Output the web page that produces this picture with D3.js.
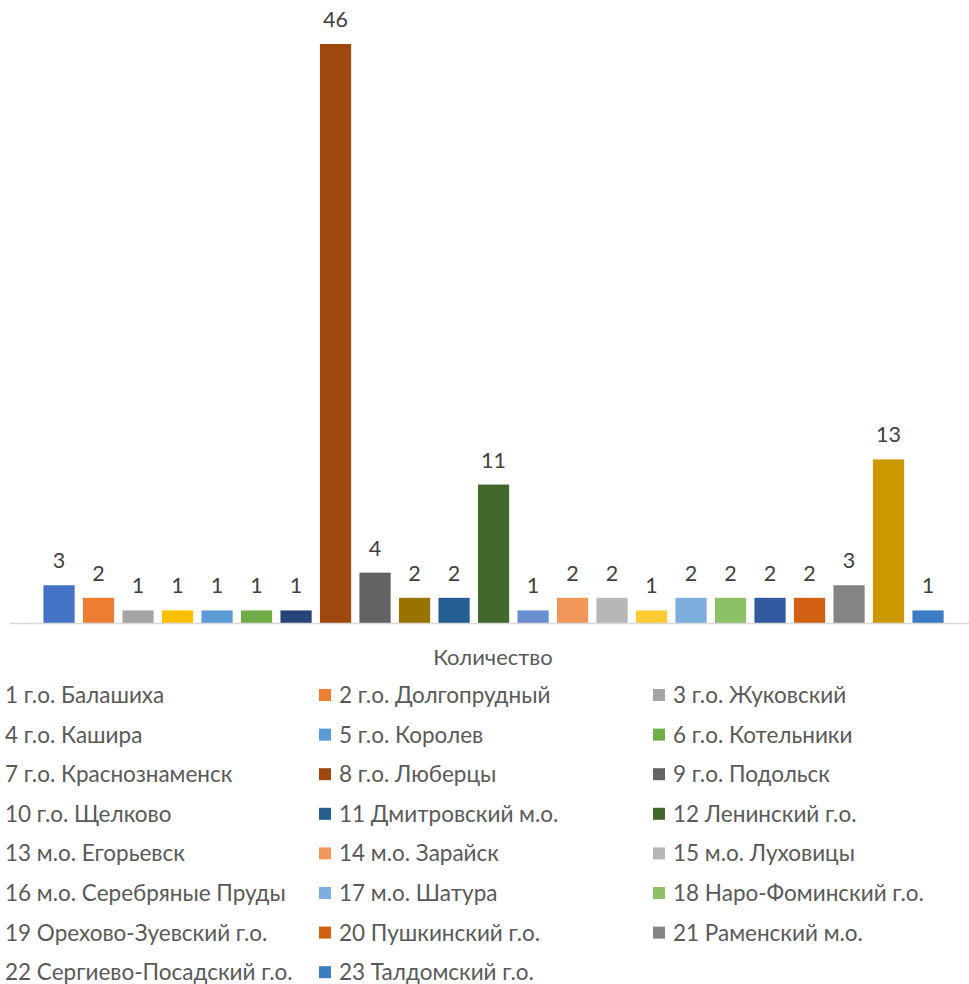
<!DOCTYPE html>
<html><head><meta charset="utf-8">
<script src="https://cdn.jsdelivr.net/npm/d3@7"></script>
<style>body{margin:0;background:#fff;} svg{display:block;}</style>
</head><body>
<script>
const categories = ["1 г.о. Балашиха","2 г.о. Долгопрудный","3 г.о. Жуковский","4 г.о. Кашира","5 г.о. Королев","6 г.о. Котельники","7 г.о. Краснознаменск","8 г.о. Люберцы","9 г.о. Подольск","10 г.о. Щелково","11 Дмитровский м.о.","12 Ленинский г.о.","13 м.о. Егорьевск","14 м.о. Зарайск","15 м.о. Луховицы","16 м.о. Серебряные Пруды","17 м.о. Шатура","18 Наро-Фоминский г.о.","19 Орехово-Зуевский г.о.","20 Пушкинский г.о.","21 Раменский м.о.","22 Сергиево-Посадский г.о.","23 Талдомский г.о."];
const values = [3,2,1,1,1,1,1,46,4,2,2,11,1,2,2,1,2,2,2,2,3,13,1];
const colors = ["#4472C4","#ED7D31","#A5A5A5","#FFC000","#5B9BD5","#70AD47","#264478","#9E480E","#636363","#997300","#255E91","#43682B","#698ED0","#F1975A","#B7B7B7","#FFCD33","#7CAFDD","#8CC168","#335AA1","#D26012","#848484","#CC9A00","#3A7DC2"];
const axisTitle = "Количество";

const W = 969, H = 984;
const svg = d3.select("body").append("svg").attr("width", W).attr("height", H);
const font = "Lato, 'Noto Sans', sans-serif";

const x = d3.scaleBand().domain(categories).range([39.3, 947.8]).paddingInner(0.21).paddingOuter(0.105);
const y = d3.scaleLinear().domain([0, 46]).range([623, 44]);

svg.selectAll("rect.bar").data(categories).join("rect")
  .attr("class","bar")
  .attr("x", d => x(d)).attr("width", x.bandwidth())
  .attr("y", (d,i) => y(values[i])).attr("height", (d,i) => y(0) - y(values[i]))
  .attr("fill", (d,i) => colors[i]);

svg.append("line").attr("x1", 10).attr("x2", 969).attr("y1", 623.5).attr("y2", 623.5)
  .attr("stroke", "#D9D9D9").attr("stroke-width", 1.5);

svg.selectAll("text.val").data(categories).join("text")
  .attr("class","val")
  .attr("x", d => x(d) + x.bandwidth()/2)
  .attr("y", (d,i) => y(values[i]) - 17)
  .attr("text-anchor","middle")
  .attr("font-family", font).attr("font-size", 21.5).attr("fill", "#404040")
  .text((d,i) => values[i]);

svg.append("text").attr("x", 493).attr("y", 665).attr("text-anchor","middle")
  .attr("font-family", font).attr("font-size", 22).attr("fill", "#595959").text(axisTitle);

const colX = [-15, 319, 653];
const rowY0 = 695, rowH = 39.6;
const leg = svg.selectAll("g.leg").data(categories).join("g").attr("class","leg")
  .attr("transform", (d,i) => `translate(${colX[i%3]},${rowY0 + Math.floor(i/3)*rowH})`);
leg.append("rect").attr("x",0).attr("y",-6).attr("width",12).attr("height",12).attr("fill",(d,i)=>colors[i]);
leg.append("text").attr("x",20).attr("y",8).attr("font-family",font).attr("font-size",22.5)
  .attr("fill","#595959").text(d=>d);
</script>
</body></html>
